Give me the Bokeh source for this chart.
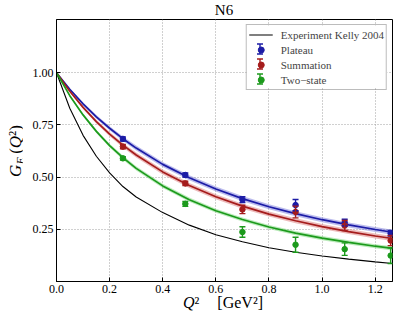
import math
from bokeh.plotting import figure
from bokeh.layouts import column, row
from bokeh.models import (ColumnDataSource, Range1d, FixedTicker, PrintfTickFormatter,
                          Legend, LegendItem, Whisker, TeeHead, Div, BoxAnnotation)
from bokeh.embed import file_html
from bokeh.resources import INLINE

# ---------------- data ----------------
q2_points = [0.25, 0.485, 0.70, 0.90, 1.085, 1.258]

plateau = [0.683, 0.510, 0.392, 0.366, 0.282, 0.231]
plateau_err = [0.010, 0.010, 0.014, 0.027, 0.016, 0.013]
summation = [0.646, 0.470, 0.345, 0.333, 0.268, 0.196]
summation_err = [0.010, 0.010, 0.020, 0.028, 0.024, 0.024]
twostate = [0.590, 0.372, 0.237, 0.176, 0.155, 0.124]
twostate_err = [0.008, 0.012, 0.025, 0.036, 0.030, 0.038]

q2_curve = [0.0, 0.05, 0.10, 0.15, 0.20, 0.25, 0.30, 0.40, 0.50, 0.60, 0.70,
            0.80, 0.90, 1.00, 1.10, 1.20, 1.265]
kelly_curve = [1.0, 0.83, 0.70, 0.60, 0.52, 0.455, 0.405, 0.330, 0.270, 0.224, 0.190,
               0.162, 0.140, 0.122, 0.107, 0.094, 0.086]
plateau_fit = [1.0, 0.921, 0.851, 0.789, 0.734, 0.684, 0.639, 0.561, 0.497, 0.443, 0.397,
               0.358, 0.325, 0.296, 0.271, 0.249, 0.236]
plateau_band = [0.0, 0.004, 0.007, 0.009, 0.010, 0.011, 0.012, 0.012, 0.012, 0.012, 0.012,
                0.012, 0.012, 0.012, 0.012, 0.012, 0.012]
summation_fit = [1.0, 0.911, 0.834, 0.766, 0.706, 0.653, 0.606, 0.525, 0.460, 0.406, 0.361,
                 0.323, 0.291, 0.263, 0.239, 0.218, 0.206]
summation_band = [0.0, 0.004, 0.007, 0.009, 0.010, 0.011, 0.012, 0.012, 0.012, 0.012, 0.012,
                  0.012, 0.012, 0.012, 0.012, 0.012, 0.012]
twostate_fit = [1.0, 0.890, 0.798, 0.719, 0.651, 0.593, 0.542, 0.458, 0.392, 0.339, 0.297,
                0.261, 0.232, 0.208, 0.187, 0.169, 0.159]
twostate_band = [0.0, 0.004, 0.006, 0.008, 0.009, 0.010, 0.010, 0.010, 0.010, 0.010, 0.010,
                 0.010, 0.010, 0.010, 0.010, 0.010, 0.010]

x_ticks = [0.0, 0.2, 0.4, 0.6, 0.8, 1.0, 1.2]
y_ticks = [0.25, 0.50, 0.75, 1.00]

title_text = "N6"
legend_labels = ["Experiment Kelly 2004", "Plateau", "Summation", "Two\u2212state"]

series = [
    (plateau, plateau_err, plateau_fit, plateau_band, "#1c1ca6", "#6a6ad8"),
    (summation, summation_err, summation_fit, summation_band, "#a51c1c", "#d86a6a"),
    (twostate, twostate_err, twostate_fit, twostate_band, "#1c9a1c", "#6ad26a"),
]

FONT = "Liberation Serif"
CSSFONT = "'Liberation Serif', serif"

p = figure(width=377, height=282, output_backend="svg", toolbar_location=None,
           x_range=Range1d(0, 1.265), y_range=Range1d(0, 1.255),
           min_border_left=34, min_border_right=7, min_border_top=1, min_border_bottom=19,
           margin=0)
p.background_fill_color = "white"
p.border_fill_color = "white"
p.outline_line_color = "black"
p.outline_line_width = 1

for ax in (p.xaxis[0], p.yaxis[0]):
    ax.major_tick_in = 4
    ax.major_tick_out = 0
    ax.minor_tick_line_color = None
    ax.axis_line_color = "black"
    ax.major_tick_line_color = "black"
    ax.major_label_text_font = FONT
    ax.major_label_text_font_size = "12px"
    ax.major_label_text_color = "black"
p.xaxis.ticker = FixedTicker(ticks=x_ticks)
p.xaxis.formatter = PrintfTickFormatter(format="%.1f")
p.xaxis.major_label_standoff = 3
p.yaxis.ticker = FixedTicker(ticks=y_ticks)
p.yaxis.formatter = PrintfTickFormatter(format="%.2f")
p.yaxis.major_label_standoff = 3

p.xgrid.ticker = FixedTicker(ticks=x_ticks[1:])
p.ygrid.ticker = FixedTicker(ticks=y_ticks)
for g in (p.xgrid[0], p.ygrid[0]):
    g.grid_line_color = "#a0a0a0"
    g.grid_line_dash = "1 2"
    g.grid_line_width = 1

legend_items = []
kelly = p.line(q2_curve, kelly_curve, line_color="black", line_width=1.1)
legend_items.append(LegendItem(label=legend_labels[0], renderers=[kelly]))

for (vals, errs, fit, band, col, light), name in zip(series, legend_labels[1:]):
    lo = [f - b for f, b in zip(fit, band)]
    hi = [f + b for f, b in zip(fit, band)]
    p.varea(x=q2_curve, y1=lo, y2=hi, fill_color=light, fill_alpha=0.45)
    p.line(q2_curve, fit, line_color=col, line_width=1.7)
    src = ColumnDataSource(dict(x=q2_points, y=vals,
                                lower=[v - e for v, e in zip(vals, errs)],
                                upper=[v + e for v, e in zip(vals, errs)]))
    p.add_layout(Whisker(source=src, base="x", upper="upper", lower="lower", level="glyph",
                         line_color=col, line_width=1.4,
                         upper_head=TeeHead(size=6, line_color=col, line_width=1.4),
                         lower_head=TeeHead(size=6, line_color=col, line_width=1.4)))
    pts = p.scatter("x", "y", source=src, marker="circle", size=5.5,
                    fill_color=col, line_color=col)
    legend_items.append(LegendItem(label=name, renderers=[pts]))

# opaque white backing for the legend (screen units, relative to the frame)
p.add_layout(BoxAnnotation(left=190, right=331, bottom=194, top=256, level="annotation",
                           left_units="screen", right_units="screen",
                           bottom_units="screen", top_units="screen",
                           fill_color="white", fill_alpha=1.0, line_color=None))

# error-bar keys for the legend entries
for i, (vals, errs, fit, band, col, light) in enumerate(series):
    cy = 232.5 - 15 * i
    key = ColumnDataSource(dict(b=[203.5], u=[cy + 5], l=[cy - 5]))
    p.add_layout(Whisker(source=key, base="b", upper="u", lower="l", level="annotation",
                         base_units="screen", upper_units="screen", lower_units="screen",
                         line_color=col, line_width=1.4,
                         upper_head=TeeHead(size=6, line_color=col, line_width=1.4),
                         lower_head=TeeHead(size=6, line_color=col, line_width=1.4)))

legend = Legend(items=legend_items, location="top_right", margin=5, padding=2,
                spacing=0, label_height=15, glyph_height=15, glyph_width=24,
                label_standoff=8, label_text_font=FONT, label_text_font_size="11px",
                border_line_color="#7a7a7a", border_line_width=1.2,
                background_fill_alpha=0.0)
p.add_layout(legend)

# ---------------- title and axis labels as HTML text ----------------
title_div = Div(width=399, height=18, margin=0, text=(
    f'<div style="position:relative;width:399px;height:18px;">'
    f'<div style="position:absolute;left:224px;top:3px;transform:translateX(-50%);'
    f'font-family:{CSSFONT};font-size:15px;line-height:15px;color:black;white-space:nowrap;">'
    f'{title_text}</div></div>'))

ylab_div = Div(width=22, height=282, margin=0, text=(
    f'<div style="position:relative;width:22px;height:282px;">'
    f'<div style="position:absolute;left:16px;top:133px;'
    f'transform:translate(-50%,-50%) rotate(-90deg);white-space:nowrap;'
    f'font-family:{CSSFONT};font-size:17px;line-height:17px;color:black;">'
    f'<i>G</i><span style="font-size:12px;position:relative;top:4px;"><i>E</i></span>'
    f'&#8201;(<i>Q</i>\u00b2)</div></div>'))

xlab_div = Div(width=399, height=31, margin=(-8, 0, 0, 0), text=(
    f'<div style="position:relative;width:399px;height:31px;">'
    f'<div style="position:absolute;left:183px;top:3px;white-space:nowrap;'
    f'font-family:{CSSFONT};font-size:16px;line-height:16px;color:black;">'
    f'<i>Q</i>\u00b2<span style="margin-left:18px;">[GeV\u00b2]</span></div></div>'))

layout = column(title_div, row(ylab_div, p, spacing=0), xlab_div, spacing=0)

open("out.html", "w").write(file_html(layout, INLINE))
